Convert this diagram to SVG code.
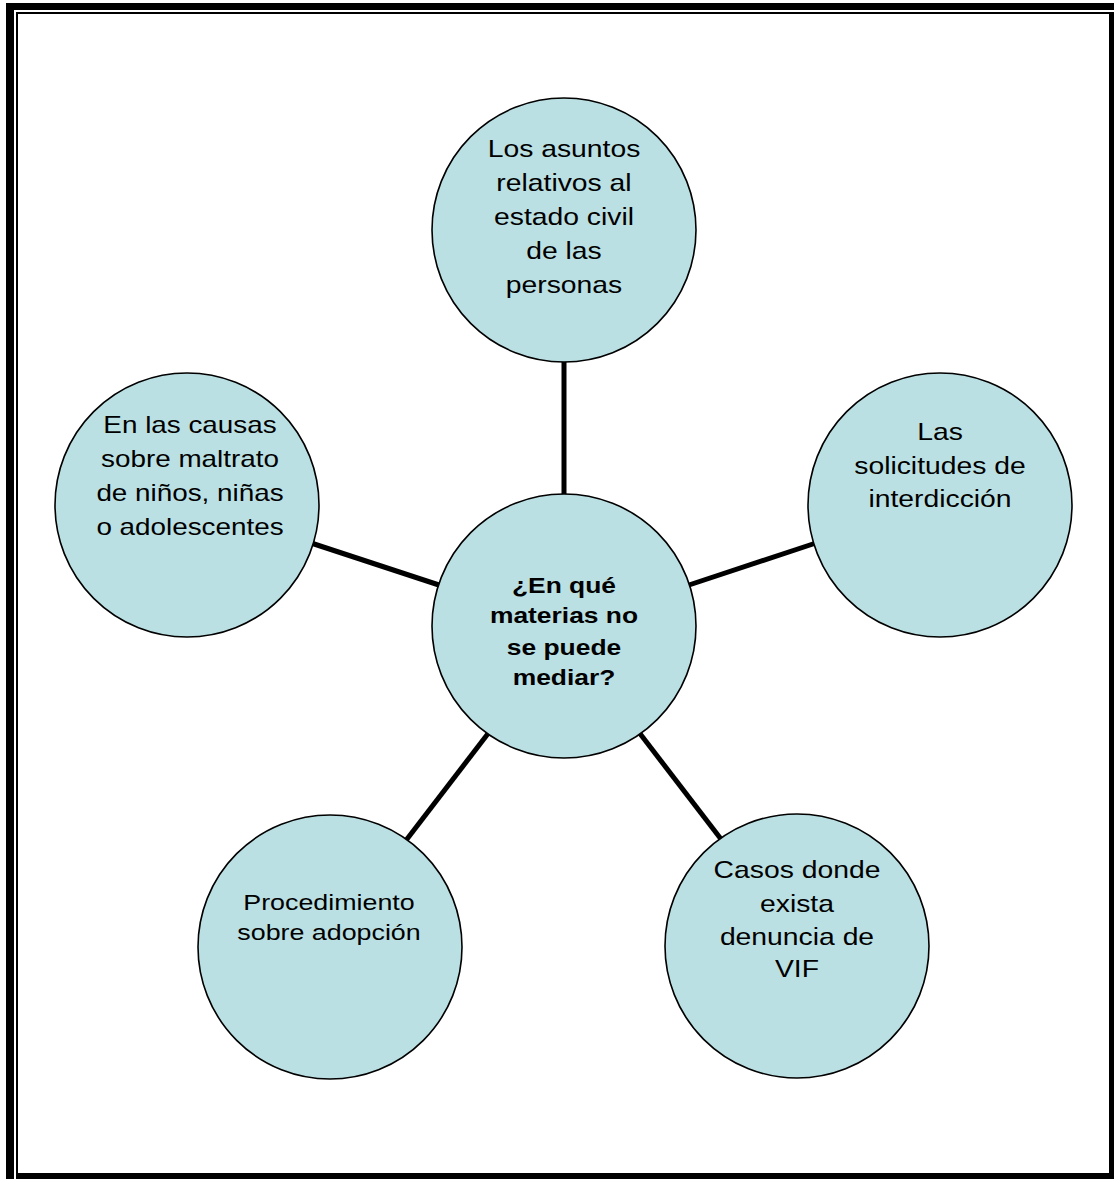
<svg xmlns="http://www.w3.org/2000/svg" width="1114" height="1179" viewBox="0 0 1114 1179">
<style>
.node circle{fill:#BBE0E3;stroke:#000;stroke-width:1.6}
.t{font-family:"Liberation Sans",Arial,sans-serif;font-size:24px;fill:#000;text-anchor:middle}
.s{font-size:22px}
.b{font-family:"Liberation Sans",Arial,sans-serif;font-size:22px;font-weight:bold;fill:#000;text-anchor:middle}
#connectors line{stroke:#000;stroke-width:5}
</style>
<rect width="1114" height="1179" fill="#fff"/>
<g id="border" fill="#000">
<rect x="6" y="3" width="1108" height="7"/>
<rect x="6" y="3" width="8" height="1176"/>
<rect x="16" y="12" width="1094" height="2"/>
<rect x="16" y="12" width="2" height="1167"/>
<rect x="1109" y="12" width="5" height="1167"/>
<rect x="16" y="1173" width="1098" height="6"/>
</g>
<g id="connectors">
<line x1="564" y1="355" x2="564" y2="500"/>
<line x1="305" y1="541" x2="442" y2="586"/>
<line x1="686" y1="586" x2="822" y2="541"/>
<line x1="490" y1="731" x2="404" y2="843"/>
<line x1="638" y1="731" x2="724" y2="843"/>
</g>
<g id="n-center" class="node">
<circle cx="564" cy="626" r="132"/>
<g transform="matrix(1.2 0 0 1 564 0)">
<text class="b" x="0" y="593">¿En qué</text>
<text class="b" x="0" y="623">materias no</text>
<text class="b" x="0" y="655">se puede</text>
<text class="b" x="0" y="685">mediar?</text>
</g>
</g>
<g id="n-top" class="node">
<circle cx="564" cy="230" r="132"/>
<g transform="matrix(1.18 0 0 1 564 0)">
<text class="t" x="0" y="157">Los asuntos</text>
<text class="t" x="0" y="191">relativos al</text>
<text class="t" x="0" y="225">estado civil</text>
<text class="t" x="0" y="259">de las</text>
<text class="t" x="0" y="293">personas</text>
</g>
</g>
<g id="n-left" class="node">
<circle cx="187" cy="505" r="132"/>
<g transform="matrix(1.16 0 0 1 190 0)">
<text class="t" x="0" y="433">En las causas</text>
<text class="t" x="0" y="467">sobre maltrato</text>
<text class="t" x="0" y="501">de niños, niñas</text>
<text class="t" x="0" y="535">o adolescentes</text>
</g>
</g>
<g id="n-right" class="node">
<circle cx="940" cy="505" r="132"/>
<g transform="matrix(1.18 0 0 1 940 0)">
<text class="t" x="0" y="440">Las</text>
<text class="t" x="0" y="474">solicitudes de</text>
<text class="t" x="0" y="507">interdicción</text>
</g>
</g>
<g id="n-bottomleft" class="node">
<circle cx="330" cy="947" r="132"/>
<g transform="matrix(1.22 0 0 1 329 0)">
<text class="t s" x="0" y="910">Procedimiento</text>
<text class="t s" x="0" y="940">sobre adopción</text>
</g>
</g>
<g id="n-bottomright" class="node">
<circle cx="797" cy="946" r="132"/>
<g transform="matrix(1.18 0 0 1 797 0)">
<text class="t" x="0" y="878">Casos donde</text>
<text class="t" x="0" y="912">exista</text>
<text class="t" x="0" y="945">denuncia de</text>
<text class="t" x="0" y="977">VIF</text>
</g>
</g>
</svg>
